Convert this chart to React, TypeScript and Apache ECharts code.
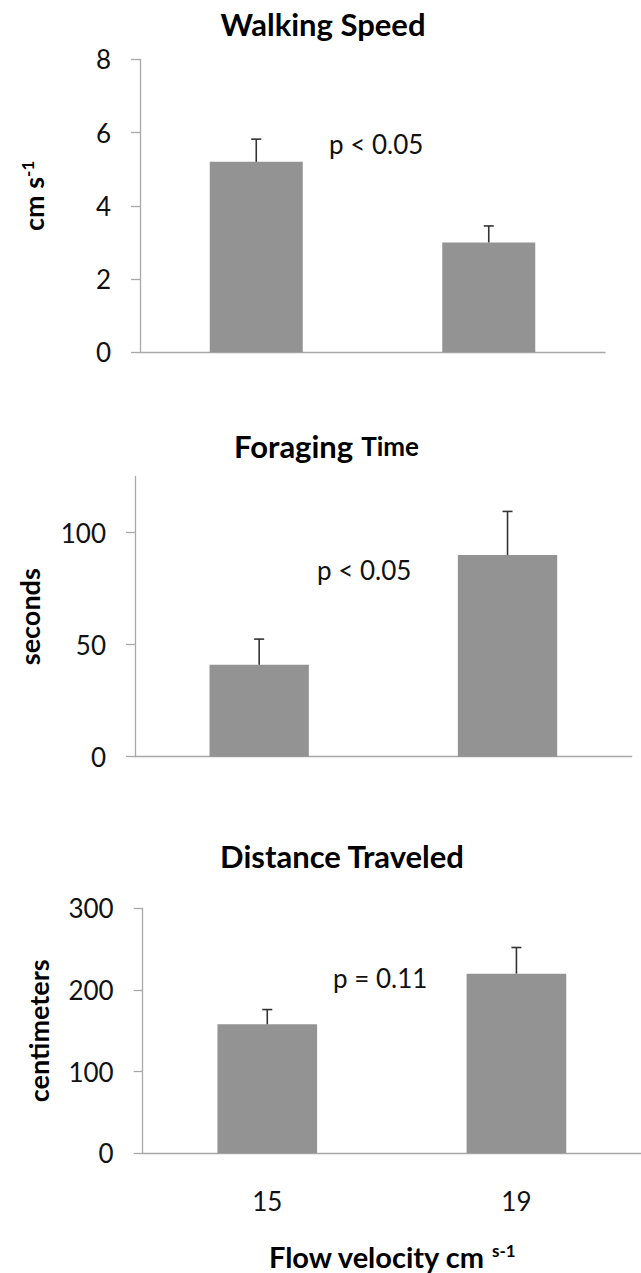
import React, { useEffect, useRef } from 'react';
import * as echarts from 'echarts';

// ---- data ----
const categories = ['15', '19'];
const walkingSpeed = [5.2, 3.0];
const walkingSpeedErr = [0.62, 0.45];
const foragingTime = [41, 90];
const foragingTimeErr = [11.5, 19.5];
const distanceTraveled = [158, 220];
const distanceTraveledErr = [18, 32];
const walkingTicks = [0, 2, 4, 6, 8];
const foragingTicks = [0, 50, 100];
const distanceTicks = [0, 100, 200, 300];
const titles = ['Walking Speed', 'Foraging', 'Time', 'Distance Traveled'];
const pTexts = ['p < 0.05', 'p < 0.05', 'p = 0.11'];
const yNames = ['cm s', '-1', 'seconds', 'centimeters'];
const xName = ['Flow velocity cm ', 's-1'];

const FONT = 'Lato';
const AXIS_COLOR = '#a8a8a8';
const BAR_COLOR = '#939393';
const ERR_COLOR = '#333333';

function errorSeries(idx: number, values: number[], errs: number[]) {
  return {
    type: 'custom',
    xAxisIndex: idx,
    yAxisIndex: idx,
    z: 5,
    encode: { x: 0, y: 1 },
    data: values.map((v, i) => [i, v, errs[i]]),
    renderItem: (params: any, api: any) => {
      const x = api.value(0);
      const v = api.value(1);
      const e = api.value(2);
      const p0 = api.coord([x, v]);
      const p1 = api.coord([x, v + e]);
      const st = { stroke: ERR_COLOR, lineWidth: 1.6 };
      return {
        type: 'group',
        children: [
          { type: 'line', shape: { x1: p0[0], y1: p0[1], x2: p1[0], y2: p1[1] }, style: st },
          { type: 'line', shape: { x1: p1[0] - 5, y1: p1[1], x2: p1[0] + 5, y2: p1[1] }, style: st },
        ],
      };
    },
  };
}

function yAxisBase(idx: number, max: number, interval: number, ticks: number[], name: string, nameGap: number, nameStyle?: any) {
  return {
    type: 'value',
    gridIndex: idx,
    min: 0,
    max,
    interval,
    name,
    nameLocation: 'middle',
    nameRotate: 90,
    nameGap,
    nameTextStyle: nameStyle || { fontFamily: FONT, fontSize: 27, fontWeight: 'bold', color: '#000' },
    axisLine: { show: true, lineStyle: { color: AXIS_COLOR, width: 1.3 } },
    axisTick: { show: true, inside: false, length: 9, lineStyle: { color: AXIS_COLOR, width: 1.3 }, customValues: ticks },
    axisLabel: { show: true, margin: 29, fontSize: 26, fontFamily: FONT, color: '#111', customValues: ticks },
    splitLine: { show: false },
  };
}

function xAxisBase(idx: number, showLabel: boolean) {
  return {
    type: 'category',
    gridIndex: idx,
    data: categories,
    axisLine: { show: true, lineStyle: { color: AXIS_COLOR, width: 1.3 } },
    axisTick: { show: false },
    axisLabel: { show: showLabel, margin: 35, fontSize: 26, fontFamily: FONT, color: '#111' },
    splitLine: { show: false },
  };
}

export default function App() {
  const ref = useRef<HTMLDivElement>(null);
  useEffect(() => {
    document.body.style.margin = '0';
    const chart = echarts.init(ref.current!, undefined, { renderer: 'svg' });
    const xAxes: any[] = [xAxisBase(0, false), xAxisBase(1, false), xAxisBase(2, true)];
    xAxes[2].name = `{a|${xName[0]}}{b|${xName[1]}}`;
    xAxes[2].nameLocation = 'middle';
    xAxes[2].nameGap = 89;
    xAxes[2].nameTextStyle = {
      fontFamily: FONT,
      lineHeight: 28,
      rich: {
        a: { fontSize: 29, lineHeight: 28, fontWeight: 'bold', color: '#000', fontFamily: FONT },
        b: { fontSize: 17, lineHeight: 18, fontWeight: 'bold', color: '#000', fontFamily: FONT, verticalAlign: 'top' },
      },
    };
    const option: any = {
      animation: false,
      backgroundColor: '#ffffff',
      grid: [
        { left: 140, top: 59.3, width: 465, height: 293 },
        { left: 135, top: 476.7, width: 496.7, height: 280 },
        { left: 142.7, top: 908.3, width: 500, height: 245 },
      ],
      xAxis: xAxes,
      yAxis: [
        yAxisBase(0, 8, 2, walkingTicks, `{a|${yNames[0]}}{b|${yNames[1]}}`, 93, {
          fontFamily: FONT,
          padding: [0, 0, 0, 20],
          rich: {
            a: { fontSize: 27, lineHeight: 28, fontWeight: 'bold', color: '#000', fontFamily: FONT },
            b: { fontSize: 17, lineHeight: 18, fontWeight: 'bold', color: '#000', fontFamily: FONT, verticalAlign: 'top' },
          },
        }),
        yAxisBase(1, 125, 50, foragingTicks, yNames[2], 92),
        yAxisBase(2, 300, 100, distanceTicks, yNames[3], 91),
      ],
      series: [
        { type: 'bar', xAxisIndex: 0, yAxisIndex: 0, data: walkingSpeed, barWidth: '40%', itemStyle: { color: BAR_COLOR } },
        { type: 'bar', xAxisIndex: 1, yAxisIndex: 1, data: foragingTime, barWidth: '40%', itemStyle: { color: BAR_COLOR } },
        { type: 'bar', xAxisIndex: 2, yAxisIndex: 2, data: distanceTraveled, barWidth: '40%', itemStyle: { color: BAR_COLOR } },
        errorSeries(0, walkingSpeed, walkingSpeedErr),
        errorSeries(1, foragingTime, foragingTimeErr),
        errorSeries(2, distanceTraveled, distanceTraveledErr),
      ],
      graphic: [
        { type: 'text', x: 323, y: 24, style: { text: titles[0], fontSize: 31, fontWeight: 'bold', fontFamily: FONT, fill: '#000', align: 'center', verticalAlign: 'middle' } },
        {
          type: 'text', x: 326.5, y: 446,
          style: {
            text: `{a|${titles[1]}}{sp| }{b|${titles[2]}}`, align: 'center', verticalAlign: 'middle', fontFamily: FONT,
            rich: {
              a: { fontSize: 31, fontWeight: 'bold', fontFamily: FONT, fill: '#000' },
              sp: { fontSize: 26, width: 8 },
              b: { fontSize: 26, fontWeight: 'bold', fontFamily: FONT, fill: '#000' },
            },
          },
        },
        { type: 'text', x: 342, y: 856, style: { text: titles[3], fontSize: 31, fontWeight: 'bold', fontFamily: FONT, fill: '#000', align: 'center', verticalAlign: 'middle' } },
        { type: 'text', x: 329, y: 144, style: { text: pTexts[0], fontSize: 26, fontFamily: FONT, fill: '#111', align: 'left', verticalAlign: 'middle' } },
        { type: 'text', x: 317, y: 569.5, style: { text: pTexts[1], fontSize: 26, fontFamily: FONT, fill: '#111', align: 'left', verticalAlign: 'middle' } },
        { type: 'text', x: 333, y: 977.5, style: { text: pTexts[2], fontSize: 26, fontFamily: FONT, fill: '#111', align: 'left', verticalAlign: 'middle' } },
      ],
    };
    chart.setOption(option);
    return () => chart.dispose();
  }, []);
  return <div ref={ref} style={{ width: 641, height: 1273 }} />;
}
